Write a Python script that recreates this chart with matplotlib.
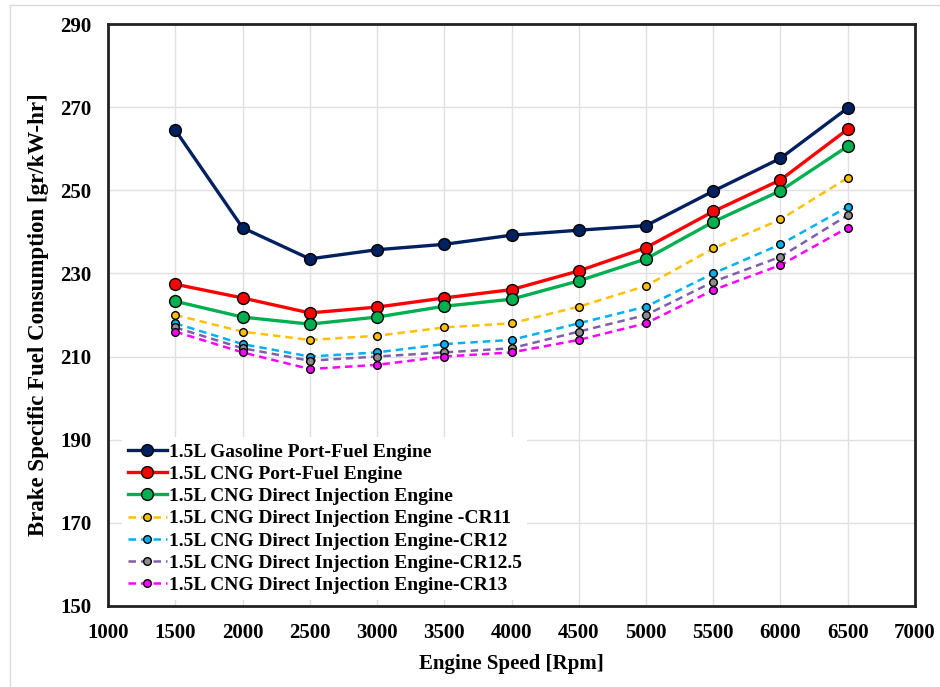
import matplotlib
matplotlib.use("Agg")
import matplotlib.pyplot as plt
from matplotlib.lines import Line2D

# engine speed [rpm]
speed = [1500, 2000, 2500, 3000, 3500, 4000, 4500, 5000, 5500, 6000, 6500]

# brake specific fuel consumption [gr/kW-hr]
gasoline_pfi = [264.5, 241.0, 233.5, 235.7, 237.0, 239.2, 240.4, 241.5, 249.8, 257.7, 269.8]
cng_pfi      = [227.4, 224.1, 220.5, 221.9, 224.1, 226.1, 230.6, 236.2, 244.9, 252.5, 264.7]
cng_di       = [223.3, 219.5, 217.8, 219.5, 222.1, 223.8, 228.2, 233.5, 242.4, 249.9, 260.6]
cng_di_cr11  = [220.0, 216.0, 214.0, 215.0, 217.0, 218.0, 222.0, 227.0, 236.0, 243.0, 253.0]
cng_di_cr12  = [218.0, 213.0, 210.0, 211.0, 213.0, 214.0, 218.0, 222.0, 230.0, 237.0, 246.0]
cng_di_cr125 = [217.0, 212.0, 209.0, 210.0, 211.0, 212.0, 216.0, 220.0, 228.0, 234.0, 244.0]
cng_di_cr13  = [216.0, 211.0, 207.0, 208.0, 210.0, 211.0, 214.0, 218.0, 226.0, 232.0, 241.0]

labels = [
    "1.5L Gasoline Port-Fuel Engine",
    "1.5L CNG Port-Fuel Engine",
    "1.5L CNG Direct Injection Engine",
    "1.5L CNG Direct Injection Engine -CR11",
    "1.5L CNG Direct Injection Engine-CR12",
    "1.5L CNG Direct Injection Engine-CR12.5",
    "1.5L CNG Direct Injection Engine-CR13",
]

xticks = list(range(1000, 7001, 500))
yticks = list(range(150, 291, 20))

plt.rcParams["font.family"] = "Liberation Serif"
plt.rcParams["font.weight"] = "bold"

fig = plt.figure(figsize=(9.4, 6.87), dpi=100)
ax = fig.add_axes([0.1149, 0.118, 0.8585, 0.847])

# light frame around the whole figure
fig.add_artist(Line2D([10 / 940, 10 / 940], [0, 1 - 5 / 687], transform=fig.transFigure,
                      color="#d9d9d9", lw=1))
fig.add_artist(Line2D([10 / 940, 1], [1 - 5 / 687, 1 - 5 / 687], transform=fig.transFigure,
                      color="#d9d9d9", lw=1))

styles = [
    (gasoline_pfi, "#002060", "#002060", "-", 2.4, 8.5),
    (cng_pfi,      "#ff0000", "#ff0000", "-", 2.4, 8.5),
    (cng_di,       "#00b050", "#00b050", "-", 2.4, 8.5),
    (cng_di_cr11,  "#ffc000", "#ffc000", "--", 1.8, 5.5),
    (cng_di_cr12,  "#00b0f0", "#00b0f0", "--", 1.8, 5.5),
    (cng_di_cr125, "#7f5fa8", "#8c8c8c", "--", 1.8, 5.5),
    (cng_di_cr13,  "#ff00ff", "#ff00ff", "--", 1.8, 5.5),
]

for (vals, color, mfc, ls, lw, ms), label in zip(styles, labels):
    ax.plot(speed, vals, ls=ls, lw=lw, color=color, marker="o", ms=ms,
            markerfacecolor=mfc, markeredgecolor="black", markeredgewidth=1.0,
            label=label, dashes=(3, 2) if ls == "--" else (None, None))

ax.set_xlim(1000, 7000)
ax.set_ylim(150, 290)
ax.set_xticks(xticks)
ax.set_yticks(yticks)
ax.tick_params(axis="both", length=0, labelsize=15, pad=12)
for t in ax.get_xticklabels() + ax.get_yticklabels():
    t.set_fontweight("bold")
ax.grid(True, color="#e0e0e0", lw=1)
ax.set_axisbelow(True)
for s in ax.spines.values():
    s.set_linewidth(2)
    s.set_color("#222222")

ax.set_xlabel("Engine Speed [Rpm]", fontsize=15, fontweight="bold", labelpad=8)
ax.set_ylabel("Brake Specific Fuel Consumption [gr/kW-hr]", fontsize=16.5,
              fontweight="bold", labelpad=8)

leg = ax.legend(loc="lower left", fontsize=14, frameon=True, framealpha=1,
                facecolor="white", edgecolor="none", handlelength=2.0,
                handletextpad=0.1, labelspacing=0.24, borderpad=0.3,
                borderaxespad=0.3, bbox_to_anchor=(0.01, 0.0))
for t in leg.get_texts():
    t.set_fontweight("bold")

fig.savefig("out.png", dpi=100)
